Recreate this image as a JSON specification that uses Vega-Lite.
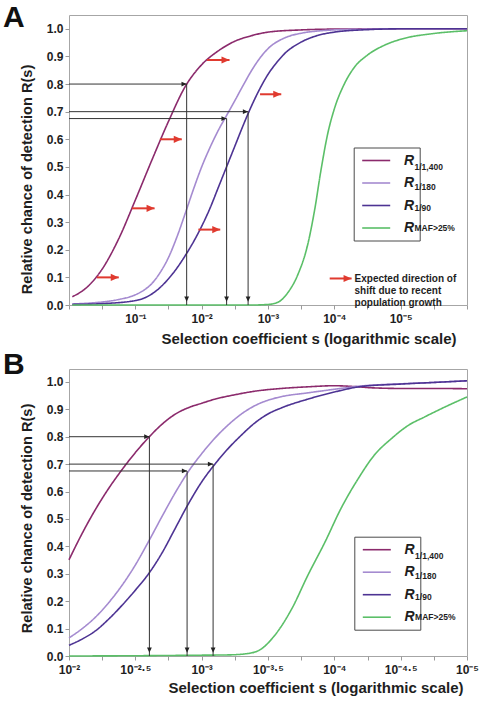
{
  "$schema": "https://vega.github.io/schema/vega-lite/v6.json",
  "padding": {"left": 2, "top": 2, "right": 0, "bottom": 0},
  "background": "white",
  "spacing": 2,
  "config": {
    "font": "Liberation Sans",
    "view": {"stroke": "#a6a6a6", "strokeWidth": 1},
    "axis": {"grid": false, "domain": false, "tickColor": "#9a9a9a", "tickSize": 4, "labelFont": "Liberation Sans", "labelFontWeight": "bold", "labelColor": "#1e1e1e", "labelFontSize": 12, "titleFont": "Liberation Sans", "titleFontWeight": "bold", "titleColor": "#1e1e1e", "titleFontSize": 15, "labelOverlap": false, "labelSeparation": 0},
    "axisY": {"labelOverlap": false, "tickCount": 11, "titleFontSize": 14.6},
    "title": {"font": "Liberation Sans", "fontSize": 30, "fontWeight": "bold", "color": "#111111", "anchor": "start", "frame": "group"}
  },
  "datasets": {
    "curvesA": [
      {"series": "1/1,400", "s": 0.8913, "R": 0.03},
      {"series": "1/1,400", "s": 0.5623, "R": 0.06},
      {"series": "1/1,400", "s": 0.3162, "R": 0.13},
      {"series": "1/1,400", "s": 0.1778, "R": 0.24},
      {"series": "1/1,400", "s": 0.1, "R": 0.38},
      {"series": "1/1,400", "s": 0.05623, "R": 0.525},
      {"series": "1/1,400", "s": 0.03162, "R": 0.665},
      {"series": "1/1,400", "s": 0.01778, "R": 0.79},
      {"series": "1/1,400", "s": 0.01, "R": 0.87},
      {"series": "1/1,400", "s": 5.623e-3, "R": 0.92},
      {"series": "1/1,400", "s": 3.162e-3, "R": 0.955},
      {"series": "1/1,400", "s": 1.778e-3, "R": 0.975},
      {"series": "1/1,400", "s": 1e-3, "R": 0.988},
      {"series": "1/1,400", "s": 3.162e-4, "R": 0.996},
      {"series": "1/1,400", "s": 1e-4, "R": 0.999},
      {"series": "1/1,400", "s": 1e-5, "R": 1.0},
      {"series": "1/1,400", "s": 1e-6, "R": 1.0},
      {"series": "1/180", "s": 0.8913, "R": 0.004},
      {"series": "1/180", "s": 0.5623, "R": 0.006},
      {"series": "1/180", "s": 0.3162, "R": 0.011},
      {"series": "1/180", "s": 0.1778, "R": 0.02},
      {"series": "1/180", "s": 0.1, "R": 0.037},
      {"series": "1/180", "s": 0.075, "R": 0.053},
      {"series": "1/180", "s": 0.05623, "R": 0.078},
      {"series": "1/180", "s": 0.04217, "R": 0.118},
      {"series": "1/180", "s": 0.03162, "R": 0.172},
      {"series": "1/180", "s": 0.02371, "R": 0.245},
      {"series": "1/180", "s": 0.01778, "R": 0.33},
      {"series": "1/180", "s": 0.01334, "R": 0.418},
      {"series": "1/180", "s": 0.01, "R": 0.5},
      {"series": "1/180", "s": 7.499e-3, "R": 0.57},
      {"series": "1/180", "s": 5.623e-3, "R": 0.632},
      {"series": "1/180", "s": 4.217e-3, "R": 0.686},
      {"series": "1/180", "s": 3.162e-3, "R": 0.74},
      {"series": "1/180", "s": 2.371e-3, "R": 0.795},
      {"series": "1/180", "s": 1.778e-3, "R": 0.848},
      {"series": "1/180", "s": 1.334e-3, "R": 0.893},
      {"series": "1/180", "s": 1e-3, "R": 0.928},
      {"series": "1/180", "s": 5.623e-4, "R": 0.967},
      {"series": "1/180", "s": 3.162e-4, "R": 0.984},
      {"series": "1/180", "s": 1.778e-4, "R": 0.992},
      {"series": "1/180", "s": 1e-4, "R": 0.996},
      {"series": "1/180", "s": 3.162e-5, "R": 0.999},
      {"series": "1/180", "s": 1e-5, "R": 1.0},
      {"series": "1/180", "s": 1e-6, "R": 1.0},
      {"series": "1/90", "s": 0.8913, "R": 0.002},
      {"series": "1/90", "s": 0.3162, "R": 0.005},
      {"series": "1/90", "s": 0.1, "R": 0.016},
      {"series": "1/90", "s": 0.05623, "R": 0.04},
      {"series": "1/90", "s": 0.03162, "R": 0.095},
      {"series": "1/90", "s": 0.02371, "R": 0.133},
      {"series": "1/90", "s": 0.01778, "R": 0.178},
      {"series": "1/90", "s": 0.01334, "R": 0.228},
      {"series": "1/90", "s": 0.01, "R": 0.285},
      {"series": "1/90", "s": 7.499e-3, "R": 0.35},
      {"series": "1/90", "s": 5.623e-3, "R": 0.425},
      {"series": "1/90", "s": 4.217e-3, "R": 0.5},
      {"series": "1/90", "s": 3.162e-3, "R": 0.575},
      {"series": "1/90", "s": 2.371e-3, "R": 0.65},
      {"series": "1/90", "s": 1.778e-3, "R": 0.72},
      {"series": "1/90", "s": 1.334e-3, "R": 0.782},
      {"series": "1/90", "s": 1e-3, "R": 0.835},
      {"series": "1/90", "s": 7.499e-4, "R": 0.876},
      {"series": "1/90", "s": 5.623e-4, "R": 0.91},
      {"series": "1/90", "s": 3.162e-4, "R": 0.952},
      {"series": "1/90", "s": 1.778e-4, "R": 0.976},
      {"series": "1/90", "s": 1e-4, "R": 0.988},
      {"series": "1/90", "s": 3.162e-5, "R": 0.997},
      {"series": "1/90", "s": 1e-5, "R": 1.0},
      {"series": "1/90", "s": 1e-6, "R": 1.0},
      {"series": "MAF>25%", "s": 0.8913, "R": 0},
      {"series": "MAF>25%", "s": 0.1, "R": 0},
      {"series": "MAF>25%", "s": 0.01, "R": 0},
      {"series": "MAF>25%", "s": 1.778e-3, "R": 0},
      {"series": "MAF>25%", "s": 1e-3, "R": 0.002},
      {"series": "MAF>25%", "s": 7.079e-4, "R": 0.01},
      {"series": "MAF>25%", "s": 5.012e-4, "R": 0.045},
      {"series": "MAF>25%", "s": 3.548e-4, "R": 0.11},
      {"series": "MAF>25%", "s": 2.512e-4, "R": 0.22},
      {"series": "MAF>25%", "s": 1.995e-4, "R": 0.34},
      {"series": "MAF>25%", "s": 1.585e-4, "R": 0.49},
      {"series": "MAF>25%", "s": 1.259e-4, "R": 0.62},
      {"series": "MAF>25%", "s": 1e-4, "R": 0.71},
      {"series": "MAF>25%", "s": 7.079e-5, "R": 0.8},
      {"series": "MAF>25%", "s": 5.012e-5, "R": 0.86},
      {"series": "MAF>25%", "s": 3.162e-5, "R": 0.905},
      {"series": "MAF>25%", "s": 1.778e-5, "R": 0.94},
      {"series": "MAF>25%", "s": 1e-5, "R": 0.962},
      {"series": "MAF>25%", "s": 3.162e-6, "R": 0.983},
      {"series": "MAF>25%", "s": 1e-6, "R": 0.993}
    ],
    "curvesB": [
      {"series": "1/1,400", "s": 1e-2, "R": 0.351},
      {"series": "1/1,400", "s": 7.943e-3, "R": 0.448},
      {"series": "1/1,400", "s": 6.31e-3, "R": 0.535},
      {"series": "1/1,400", "s": 5.012e-3, "R": 0.612},
      {"series": "1/1,400", "s": 3.981e-3, "R": 0.68},
      {"series": "1/1,400", "s": 3.162e-3, "R": 0.742},
      {"series": "1/1,400", "s": 2.512e-3, "R": 0.797},
      {"series": "1/1,400", "s": 1.995e-3, "R": 0.845},
      {"series": "1/1,400", "s": 1.585e-3, "R": 0.882},
      {"series": "1/1,400", "s": 1.259e-3, "R": 0.906},
      {"series": "1/1,400", "s": 1e-3, "R": 0.922},
      {"series": "1/1,400", "s": 7.943e-4, "R": 0.937},
      {"series": "1/1,400", "s": 5.623e-4, "R": 0.953},
      {"series": "1/1,400", "s": 3.981e-4, "R": 0.966},
      {"series": "1/1,400", "s": 2.512e-4, "R": 0.976},
      {"series": "1/1,400", "s": 1.585e-4, "R": 0.982},
      {"series": "1/1,400", "s": 1e-4, "R": 0.986},
      {"series": "1/1,400", "s": 7.079e-5, "R": 0.983},
      {"series": "1/1,400", "s": 5.012e-5, "R": 0.978},
      {"series": "1/1,400", "s": 3.162e-5, "R": 0.976},
      {"series": "1/1,400", "s": 1.778e-5, "R": 0.976},
      {"series": "1/1,400", "s": 1e-5, "R": 0.975},
      {"series": "1/180", "s": 1e-2, "R": 0.066},
      {"series": "1/180", "s": 7.943e-3, "R": 0.1},
      {"series": "1/180", "s": 6.31e-3, "R": 0.142},
      {"series": "1/180", "s": 5.012e-3, "R": 0.195},
      {"series": "1/180", "s": 3.981e-3, "R": 0.258},
      {"series": "1/180", "s": 3.162e-3, "R": 0.332},
      {"series": "1/180", "s": 2.512e-3, "R": 0.418},
      {"series": "1/180", "s": 1.995e-3, "R": 0.508},
      {"series": "1/180", "s": 1.585e-3, "R": 0.595},
      {"series": "1/180", "s": 1.259e-3, "R": 0.673},
      {"series": "1/180", "s": 1e-3, "R": 0.738},
      {"series": "1/180", "s": 7.943e-4, "R": 0.795},
      {"series": "1/180", "s": 6.31e-4, "R": 0.843},
      {"series": "1/180", "s": 5.012e-4, "R": 0.883},
      {"series": "1/180", "s": 3.981e-4, "R": 0.913},
      {"series": "1/180", "s": 3.162e-4, "R": 0.933},
      {"series": "1/180", "s": 2.512e-4, "R": 0.946},
      {"series": "1/180", "s": 1.585e-4, "R": 0.96},
      {"series": "1/180", "s": 1e-4, "R": 0.973},
      {"series": "1/180", "s": 6.31e-5, "R": 0.985},
      {"series": "1/180", "s": 3.162e-5, "R": 0.993},
      {"series": "1/180", "s": 1.778e-5, "R": 0.998},
      {"series": "1/180", "s": 1e-5, "R": 1.004},
      {"series": "1/90", "s": 1e-2, "R": 0.039},
      {"series": "1/90", "s": 7.943e-3, "R": 0.062},
      {"series": "1/90", "s": 6.31e-3, "R": 0.092},
      {"series": "1/90", "s": 5.012e-3, "R": 0.135},
      {"series": "1/90", "s": 3.981e-3, "R": 0.185},
      {"series": "1/90", "s": 3.162e-3, "R": 0.24},
      {"series": "1/90", "s": 2.512e-3, "R": 0.3},
      {"series": "1/90", "s": 1.995e-3, "R": 0.375},
      {"series": "1/90", "s": 1.585e-3, "R": 0.465},
      {"series": "1/90", "s": 1.259e-3, "R": 0.555},
      {"series": "1/90", "s": 1e-3, "R": 0.635},
      {"series": "1/90", "s": 7.943e-4, "R": 0.7},
      {"series": "1/90", "s": 6.31e-4, "R": 0.757},
      {"series": "1/90", "s": 5.012e-4, "R": 0.806},
      {"series": "1/90", "s": 3.981e-4, "R": 0.85},
      {"series": "1/90", "s": 3.162e-4, "R": 0.883},
      {"series": "1/90", "s": 2.512e-4, "R": 0.905},
      {"series": "1/90", "s": 1.585e-4, "R": 0.937},
      {"series": "1/90", "s": 1e-4, "R": 0.963},
      {"series": "1/90", "s": 6.31e-5, "R": 0.983},
      {"series": "1/90", "s": 3.162e-5, "R": 0.992},
      {"series": "1/90", "s": 1.778e-5, "R": 0.998},
      {"series": "1/90", "s": 1e-5, "R": 1.004},
      {"series": "MAF>25%", "s": 1e-2, "R": 0},
      {"series": "MAF>25%", "s": 3.162e-3, "R": 0.001},
      {"series": "MAF>25%", "s": 1e-3, "R": 0.003},
      {"series": "MAF>25%", "s": 6.31e-4, "R": 0.004},
      {"series": "MAF>25%", "s": 4.677e-4, "R": 0.008},
      {"series": "MAF>25%", "s": 3.715e-4, "R": 0.02},
      {"series": "MAF>25%", "s": 2.818e-4, "R": 0.075},
      {"series": "MAF>25%", "s": 2.089e-4, "R": 0.173},
      {"series": "MAF>25%", "s": 1.585e-4, "R": 0.294},
      {"series": "MAF>25%", "s": 1.175e-4, "R": 0.416},
      {"series": "MAF>25%", "s": 8.913e-5, "R": 0.538},
      {"series": "MAF>25%", "s": 6.607e-5, "R": 0.647},
      {"series": "MAF>25%", "s": 5.012e-5, "R": 0.732},
      {"series": "MAF>25%", "s": 3.715e-5, "R": 0.793},
      {"series": "MAF>25%", "s": 2.754e-5, "R": 0.842},
      {"series": "MAF>25%", "s": 2.089e-5, "R": 0.872},
      {"series": "MAF>25%", "s": 1.549e-5, "R": 0.903},
      {"series": "MAF>25%", "s": 1e-5, "R": 0.945}
    ],
    "arrowsA": [
      {"s": 0.01683, "R": 0.8},
      {"s": 0.004207, "R": 0.675},
      {"s": 0.001995, "R": 0.7}
    ],
    "arrowsB": [
      {"s": 0.002477, "R": 0.8},
      {"s": 0.001288, "R": 0.675},
      {"s": 0.00082, "R": 0.7}
    ],
    "redA": [
      {"s0": 0.3802, "s1": 0.1778, "R": 0.1},
      {"s0": 0.1122, "s1": 0.05129, "R": 0.35},
      {"s0": 0.04266, "s1": 0.01995, "R": 0.6},
      {"s0": 0.008318, "s1": 0.003802, "R": 0.887},
      {"s0": 0.01122, "s1": 0.005248, "R": 0.273},
      {"s0": 0.001318, "s1": 0.000631, "R": 0.763},
      {"s0": 0.0001175, "s1": 0.00005495, "R": 0.096}
    ],
    "noteA": [
      {"s": 4.955e-5, "R": 0.094, "text": ["Expected direction of", "shift due to recent", "population growth"]}
    ]
  },
  "resolve": {
    "scale": {"x": "independent", "y": "independent", "color": "independent", "strokeDash": "independent", "strokeWidth": "independent"},
    "legend": {"color": "independent", "strokeDash": "independent"}
  },
  "vconcat": [
    {
      "width": 398,
      "height": 290,
      "title": {"text": "A", "dx": -66, "offset": -42, "baseline": "alphabetic"},
      "layer": [
        {
          "data": {"name": "curvesA"},
          "mark": {"type": "line", "interpolate": "monotone"},
          "encoding": {
            "x": {
              "field": "s", "type": "quantitative",
              "scale": {"type": "log", "domain": [1e-6, 1], "reverse": true, "nice": false},
              "axis": {
                "values": [1, 0.31623, 0.1, 0.031623, 0.01, 0.0031623, 0.001, 0.00031623, 0.0001, 0.000031623, 0.00001, 0.0000031623, 0.000001],
                "labelExpr": "['', '', '10⁻¹', '', '10⁻²', '', '10⁻³', '', '10⁻⁴', '', '10⁻⁵', '', ''][round(-log(datum.value) / LN10 * 2)]",
                "labelOverlap": false, "labelFlush": false, "labelPadding": 4,
                "title": "Selection coefficient s (logarithmic scale)",
                "titleX": 387, "titleAlign": "right", "titlePadding": 7
              }
            },
            "y": {
              "field": "R", "type": "quantitative",
              "scale": {"domain": [0, 1.05], "nice": false, "zero": false},
              "axis": {
                "values": [0, 0.1, 0.2, 0.3, 0.4, 0.5, 0.6, 0.7, 0.8, 0.9, 1.0],
                "format": ".1f", "labelPadding": 2, "labelOverlap": false,
                "title": "Relative chance of detection R(s)",
                "titleY": 164, "titlePadding": 12
              }
            },
            "order": {"field": "s", "sort": "descending"},
            "color": {
              "field": "series", "type": "nominal",
              "scale": {"domain": ["1/1,400", "1/180", "1/90", "MAF>25%"], "range": ["#8B2A6C", "#A58BD0", "#4D3393", "#5BBF68"]},
              "legend": {
                "orient": "none", "legendX": 284.7, "legendY": 132.5, "title": null,
                "symbolType": "M-2,0H2", "symbolSize": 196, "symbolStrokeWidth": 3, "symbolOffset": 9.5,
                "labelOffset": 19.8, "padding": 5, "rowPadding": 7.5,
                "labelExpr": "'R       '", "labelFontSize": 14, "labelFontWeight": "bold", "labelFontStyle": "italic", "labelColor": "#1e1e1e", "labelBaseline": "middle",
                "strokeColor": "#4a4a4a", "fillColor": "white"
              }
            },
            "strokeDash": {
              "field": "series", "type": "nominal",
              "scale": {"range": [[1, 0], [1, 0], [1, 0], [1, 0]]},
              "legend": {
                "orient": "none", "legendX": 284.7, "legendY": 138, "title": null,
                "symbolType": "M-2,0H2", "symbolSize": 196, "symbolStrokeWidth": 3, "symbolOpacity": 0, "symbolOffset": 9.5,
                "labelOffset": 29.3, "padding": 5, "rowPadding": 7.5,
                "labelFontSize": 8.5, "labelFontWeight": "bold", "labelColor": "#1e1e1e", "labelBaseline": "middle"
              }
            },
            "strokeWidth": {
              "field": "series", "type": "ordinal",
              "scale": {"domain": ["1/1,400", "1/180", "1/90", "MAF>25%"], "range": [1.6, 1.6, 1.6, 3.5]},
              "legend": null
            }
          }
        },
        {
          "data": {"name": "redA"},
          "mark": {"type": "rule", "color": "#E03A2F", "strokeWidth": 2},
          "encoding": {
            "x": {"field": "s0", "type": "quantitative"},
            "x2": {"field": "s1"},
            "y": {"field": "R", "type": "quantitative"}
          }
        },
        {
          "data": {"name": "redA"},
          "mark": {"type": "point", "shape": "M0,0L-4,-1.8L-4,1.8Z", "size": 16, "filled": true, "color": "#E03A2F", "opacity": 1, "strokeWidth": 0},
          "encoding": {
            "x": {"field": "s1", "type": "quantitative"},
            "y": {"field": "R", "type": "quantitative"}
          }
        },
        {
          "data": {"name": "arrowsA"},
          "mark": {"type": "rule", "color": "#333333", "strokeWidth": 1},
          "encoding": {
            "x": {"field": "s", "type": "quantitative"},
            "x2": {"datum": 1},
            "y": {"field": "R", "type": "quantitative"}
          }
        },
        {
          "data": {"name": "arrowsA"},
          "mark": {"type": "rule", "color": "#333333", "strokeWidth": 1},
          "encoding": {
            "x": {"field": "s", "type": "quantitative"},
            "y": {"field": "R", "type": "quantitative"},
            "y2": {"datum": 0}
          }
        },
        {
          "data": {"name": "arrowsA"},
          "mark": {"type": "point", "shape": "M0,0L-2.6,-1.2L-2.6,1.2Z", "size": 16, "filled": true, "color": "#222222", "opacity": 1, "strokeWidth": 0},
          "encoding": {
            "x": {"field": "s", "type": "quantitative"},
            "y": {"field": "R", "type": "quantitative"}
          }
        },
        {
          "data": {"name": "arrowsA"},
          "mark": {"type": "point", "shape": "M0,0L-1.2,-2.6L1.2,-2.6Z", "size": 16, "filled": true, "color": "#222222", "opacity": 1, "strokeWidth": 0},
          "encoding": {
            "x": {"field": "s", "type": "quantitative"},
            "y": {"datum": 0.012, "type": "quantitative"}
          }
        },
        {
          "data": {"name": "noteA"},
          "mark": {"type": "text", "align": "left", "baseline": "middle", "fontSize": 10, "fontWeight": "bold", "lineHeight": 12, "color": "#1e1e1e"},
          "encoding": {
            "x": {"field": "s", "type": "quantitative"},
            "y": {"field": "R", "type": "quantitative"},
            "text": {"field": "text", "type": "nominal"}
          }
        }
      ]
    },
    {
      "width": 398,
      "height": 287,
      "title": {"text": "B", "dx": -66, "offset": -35, "baseline": "alphabetic"},
      "layer": [
        {
          "data": {"name": "curvesB"},
          "mark": {"type": "line", "interpolate": "monotone"},
          "encoding": {
            "x": {
              "field": "s", "type": "quantitative",
              "scale": {"type": "log", "domain": [1e-5, 1e-2], "reverse": true, "nice": false},
              "axis": {
                "values": [0.01, 0.0056234, 0.0031623, 0.0017783, 0.001, 0.00056234, 0.00031623, 0.00017783, 0.0001, 0.000056234, 0.000031623, 0.000017783, 0.00001],
                "labelExpr": "['', '', '', '', '', '', '', '', '10⁻²', '', '10⁻²·⁵', '', '10⁻³', '', '10⁻³·⁵', '', '10⁻⁴', '', '10⁻⁴·⁵', '', '10⁻⁵'][round(-log(datum.value) / LN10 * 4)]",
                "labelOverlap": false, "labelFlush": false, "labelPadding": 4,
                "title": "Selection coefficient s (logarithmic scale)",
                "titleX": 394, "titleAlign": "right", "titlePadding": 5
              }
            },
            "y": {
              "field": "R", "type": "quantitative",
              "scale": {"domain": [0, 1.047], "nice": false, "zero": false},
              "axis": {
                "values": [0, 0.1, 0.2, 0.3, 0.4, 0.5, 0.6, 0.7, 0.8, 0.9, 1.0],
                "format": ".1f", "labelPadding": 2, "labelOverlap": false,
                "title": "Relative chance of detection R(s)",
                "titleY": 149, "titlePadding": 12
              }
            },
            "order": {"field": "s", "sort": "descending"},
            "color": {
              "field": "series", "type": "nominal",
              "scale": {"domain": ["1/1,400", "1/180", "1/90", "MAF>25%"], "range": ["#8B2A6C", "#A58BD0", "#4D3393", "#5BBF68"]},
              "legend": {
                "orient": "none", "legendX": 285.3, "legendY": 167.7, "title": null,
                "symbolType": "M-2,0H2", "symbolSize": 196, "symbolStrokeWidth": 3, "symbolOffset": 9.5,
                "labelOffset": 19.8, "padding": 5, "rowPadding": 7.5,
                "labelExpr": "'R          '", "labelFontSize": 14, "labelFontWeight": "bold", "labelFontStyle": "italic", "labelColor": "#1e1e1e", "labelBaseline": "middle",
                "strokeColor": "#4a4a4a", "fillColor": "white"
              }
            },
            "strokeDash": {
              "field": "series", "type": "nominal",
              "scale": {"range": [[1, 0], [1, 0], [1, 0], [1, 0]]},
              "legend": {
                "orient": "none", "legendX": 285.3, "legendY": 173.2, "title": null,
                "symbolType": "M-2,0H2", "symbolSize": 196, "symbolStrokeWidth": 3, "symbolOpacity": 0, "symbolOffset": 9.5,
                "labelOffset": 29.3, "padding": 5, "rowPadding": 7.5,
                "labelFontSize": 8.5, "labelFontWeight": "bold", "labelColor": "#1e1e1e", "labelBaseline": "middle"
              }
            },
            "strokeWidth": {
              "field": "series", "type": "ordinal",
              "scale": {"domain": ["1/1,400", "1/180", "1/90", "MAF>25%"], "range": [1.6, 1.6, 1.6, 3.5]},
              "legend": null
            }
          }
        },
        {
          "data": {"name": "arrowsB"},
          "mark": {"type": "rule", "color": "#333333", "strokeWidth": 1},
          "encoding": {
            "x": {"field": "s", "type": "quantitative"},
            "x2": {"datum": 0.01},
            "y": {"field": "R", "type": "quantitative"}
          }
        },
        {
          "data": {"name": "arrowsB"},
          "mark": {"type": "rule", "color": "#333333", "strokeWidth": 1},
          "encoding": {
            "x": {"field": "s", "type": "quantitative"},
            "y": {"field": "R", "type": "quantitative"},
            "y2": {"datum": 0}
          }
        },
        {
          "data": {"name": "arrowsB"},
          "mark": {"type": "point", "shape": "M0,0L-2.6,-1.2L-2.6,1.2Z", "size": 16, "filled": true, "color": "#222222", "opacity": 1, "strokeWidth": 0},
          "encoding": {
            "x": {"field": "s", "type": "quantitative"},
            "y": {"field": "R", "type": "quantitative"}
          }
        },
        {
          "data": {"name": "arrowsB"},
          "mark": {"type": "point", "shape": "M0,0L-1.2,-2.6L1.2,-2.6Z", "size": 16, "filled": true, "color": "#222222", "opacity": 1, "strokeWidth": 0},
          "encoding": {
            "x": {"field": "s", "type": "quantitative"},
            "y": {"datum": 0.012, "type": "quantitative"}
          }
        }
      ]
    }
  ]
}
